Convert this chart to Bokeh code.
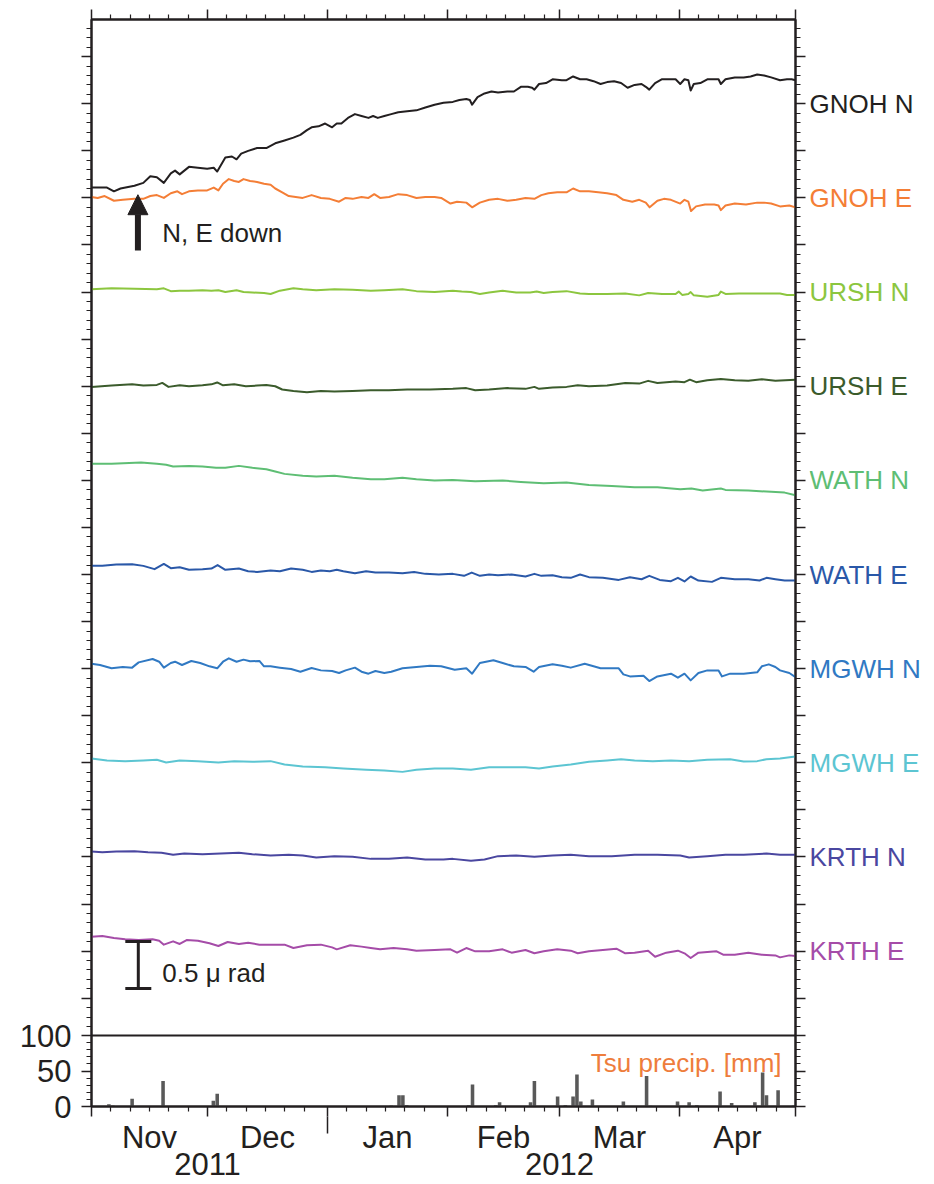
from bokeh.plotting import figure
from bokeh.layouts import row
from bokeh.models import (Range1d, LinearAxis, FixedTicker, CustomJSTickFormatter,
                          Label, Arrow, NormalHead, TeeHead, Span)
from bokeh.core.properties import value
from bokeh.embed import file_html
from bokeh.resources import INLINE

# ---------------- data (x = days since 2011-11-01) ----------------
month_starts = [0, 30, 61, 92, 121, 152, 182]
month_mid = [15, 45.5, 76.5, 106.5, 136.5, 167]
month_names = ["Nov", "Dec", "Jan", "Feb", "Mar", "Apr"]
year_pos = [30, 121]
year_names = ["2011", "2012"]

station_names = ["GNOH N", "GNOH E", "URSH N", "URSH E", "WATH N",
                 "WATH E", "MGWH N", "MGWH E", "KRTH N", "KRTH E"]
station_offsets = [9, 8, 7, 6, 5, 4, 3, 2, 1, 0]   # micro-rad offsets
station_colors = ["#231F20", "#F47E36", "#8CC63F", "#3B5B2C", "#5EBE74",
                  "#2A58A8", "#3079C3", "#5CC5D2", "#4A47A0", "#A54CA8"]

gnoh_n_day = [0, 4, 5.8, 7.5, 11.1, 13.4, 15.2, 16.9, 18.7, 20.5, 21.6, 22.8, 25.2, 27.5, 29.9,
              31.6, 32.5, 34.6, 36.3, 37.5, 38.7, 40.5, 42.8, 45.2, 47.5, 49.9, 52.2, 54.0, 55.7,
              56.9, 58.7, 60.4, 62.2, 63.4, 64.6, 66.3, 68.1, 69.8, 71.6, 72.8, 74.0, 75.7, 77.5,
              79.3, 81.6, 84.0, 86.3, 88.7, 91.0, 93.4, 95.1, 96.9, 97.8, 98.4, 99.8, 101.6, 103.4,
              105.1, 107.5, 109.2, 111.0, 112.8, 113.9, 114.5, 115.7, 117.5, 119.2, 121.6, 122.8,
              124.5, 126.3, 128.0, 129.8, 131.6, 133.3, 135.1, 136.9, 138.6, 140.4, 142.2, 143.3,
              144.2, 145.7, 147.4, 149.2, 151.0, 152.2, 153.3, 154.3, 154.9, 155.7, 157.4, 159.2,
              161.0, 162.1, 162.7, 163.9, 166.3, 168.6, 170.4, 172.1, 173.9, 175.7, 178.0, 179.8,
              181.0, 182.0]
gnoh_n_val = [-0.89, -0.89, -0.93, -0.90, -0.87, -0.84, -0.77, -0.78, -0.84, -0.74, -0.71, -0.75,
              -0.67, -0.68, -0.69, -0.68, -0.72, -0.57, -0.56, -0.59, -0.53, -0.50, -0.47, -0.47,
              -0.42, -0.39, -0.36, -0.33, -0.28, -0.25, -0.24, -0.21, -0.25, -0.21, -0.21, -0.15,
              -0.11, -0.13, -0.15, -0.13, -0.15, -0.13, -0.11, -0.09, -0.08, -0.07, -0.04, -0.01,
              0.01, 0.02, 0.04, 0.05, 0.04, -0.01, 0.07, 0.11, 0.13, 0.12, 0.13, 0.13, 0.18, 0.18,
              0.17, 0.15, 0.21, 0.22, 0.26, 0.25, 0.25, 0.29, 0.26, 0.26, 0.24, 0.21, 0.23, 0.24,
              0.22, 0.17, 0.20, 0.21, 0.18, 0.15, 0.22, 0.26, 0.26, 0.26, 0.21, 0.26, 0.25, 0.14,
              0.21, 0.22, 0.26, 0.26, 0.26, 0.21, 0.26, 0.28, 0.28, 0.29, 0.31, 0.30, 0.28, 0.25,
              0.26, 0.26, 0.25]

gnoh_e_day = [0, 1.6, 3.4, 5.8, 8.1, 11.1, 13.4, 15.2, 16.9, 18.7, 20.5, 22.2, 23.4, 25.2, 27.5,
              29.9, 31.6, 32.8, 34.0, 35.5, 36.9, 38.1, 39.3, 41.0, 42.8, 44.6, 46.3, 47.5, 49.3,
              51.0, 52.8, 54.6, 56.9, 59.3, 61.6, 64.0, 65.7, 67.5, 69.8, 71.6, 73.1, 74.6, 76.9,
              79.3, 81.6, 84.0, 86.3, 88.7, 90.4, 92.8, 94.5, 96.9, 98.4, 100.4, 102.8, 105.1,
              107.5, 109.8, 112.2, 114.5, 116.3, 118.1, 120.4, 122.8, 124.5, 126.3, 128.6, 131.0,
              133.3, 135.7, 137.5, 139.8, 141.6, 143.3, 144.3, 146.3, 148.0, 149.8, 152.2, 153.3,
              154.3, 155.0, 156.3, 158.6, 161.0, 162.1, 162.7, 163.9, 166.3, 169.2, 172.1, 173.9,
              175.7, 178.0, 180.4, 182.0]
gnoh_e_val = [0.01, 0.00, 0.02, -0.03, -0.02, -0.01, -0.01, 0.02, 0.03, 0.00, 0.05, 0.07, 0.04,
              0.07, 0.08, 0.08, 0.11, 0.08, 0.15, 0.20, 0.18, 0.17, 0.20, 0.18, 0.17, 0.15, 0.14,
              0.10, 0.06, 0.02, 0.01, 0.00, 0.03, 0.00, -0.01, -0.04, 0.00, -0.01, 0.01, 0.00, 0.04,
              0.00, 0.01, 0.04, 0.03, 0.00, 0.01, 0.01, 0.00, -0.06, -0.04, -0.05, -0.10, -0.05,
              -0.02, -0.01, -0.03, -0.02, 0.00, -0.01, 0.03, 0.05, 0.06, 0.06, 0.10, 0.07, 0.07,
              0.06, 0.05, 0.03, -0.02, -0.04, -0.02, -0.05, -0.10, -0.03, -0.01, -0.02, -0.06,
              -0.02, -0.04, -0.14, -0.09, -0.07, -0.07, -0.08, -0.13, -0.08, -0.06, -0.07, -0.05,
              -0.05, -0.06, -0.09, -0.08, -0.10]

ursh_n_day = [0, 5.2, 11.1, 16.9, 18.7, 20.5, 22.8, 25.2, 28.7, 31.0, 32.8, 34.6, 37.5, 39.3,
              41.6, 44.6, 46.3, 48.7, 52.2, 54.6, 58.1, 62.8, 67.5, 72.2, 75.7, 80.4, 84.0, 88.7,
              93.4, 95.7, 98.1, 100.4, 102.8, 106.3, 109.8, 113.4, 115.1, 116.9, 119.2, 122.8,
              126.3, 128.6, 133.3, 138.0, 141.6, 143.9, 147.5, 151.0, 151.8, 152.7, 154.3, 154.9,
              155.7, 159.2, 162.1, 162.7, 163.9, 167.4, 171.0, 174.5, 178.0, 179.8, 182.0]
ursh_n_val = [0.03, 0.04, 0.035, 0.03, 0.04, 0.01, 0.015, 0.015, 0.02, 0.015, 0.02, 0.0, 0.02,
              0.0, -0.005, -0.01, -0.02, 0.015, 0.04, 0.03, 0.02, 0.03, 0.025, 0.015, 0.02, 0.03,
              0.01, 0.0, 0.015, 0.005, 0.0, -0.02, -0.005, 0.015, -0.005, -0.005, 0.005, -0.01,
              0.0, 0.01, -0.015, -0.02, -0.02, -0.015, -0.035, -0.01, -0.02, -0.02, 0.005, -0.03,
              -0.02, 0.0, -0.035, -0.05, -0.03, 0.005, -0.02, -0.015, -0.015, -0.015, -0.015,
              -0.03, -0.03]

ursh_e_day = [0, 5.2, 10.5, 13.4, 16.9, 18.3, 19.9, 22.8, 25.2, 28.7, 31.0, 32.5, 34.0, 36.9,
              39.9, 42.8, 45.2, 47.5, 49.3, 52.2, 55.7, 59.3, 62.8, 67.5, 72.2, 76.9, 81.6, 87.5,
              93.4, 96.9, 99.2, 102.8, 107.5, 112.2, 114.5, 115.7, 119.2, 122.8, 125.7, 128.6,
              133.3, 138.0, 141.6, 143.9, 146.3, 151.0, 153.3, 154.7, 156.3, 159.2, 162.7, 166.3,
              169.8, 173.3, 176.8, 182.0]
ursh_e_val = [-0.007, 0.007, 0.02, 0.007, 0.014, 0.035, -0.007, 0.01, 0.0, 0.01, 0.02, 0.04, 0.01,
              0.02, 0.0, 0.007, 0.014, 0.0, -0.035, -0.05, -0.064, -0.05, -0.057, -0.05, -0.043,
              -0.043, -0.035, -0.035, -0.028, -0.02, -0.043, -0.035, -0.02, -0.028, -0.007,
              -0.028, -0.014, -0.007, 0.01, 0.0, 0.007, 0.035, 0.028, 0.057, 0.035, 0.05, 0.043,
              0.07, 0.043, 0.064, 0.078, 0.064, 0.057, 0.074, 0.057, 0.07]

wath_n_day = [0, 5.2, 12.8, 16.9, 19.3, 21.1, 25.2, 28.7, 32.2, 34.6, 38.1, 41.6, 45.2, 47.5,
              49.9, 54.6, 58.1, 62.8, 67.5, 72.2, 75.7, 80.4, 84.0, 88.7, 93.4, 99.2, 106.3, 111.0,
              116.9, 122.8, 128.6, 134.5, 140.4, 146.3, 152.2, 155.1, 158.0, 162.7, 163.9, 169.8,
              175.7, 179.2, 182.0]
wath_n_val = [0.176, 0.176, 0.19, 0.176, 0.165, 0.147, 0.154, 0.147, 0.133, 0.133, 0.154, 0.133,
              0.119, 0.094, 0.069, 0.048, 0.041, 0.048, 0.027, 0.012, 0.012, 0.027, 0.012, -0.002,
              0.005, -0.009, -0.002, -0.016, -0.03, -0.023, -0.048, -0.059, -0.073, -0.073, -0.094,
              -0.087, -0.108, -0.087, -0.101, -0.108, -0.122, -0.13, -0.158]

wath_e_day = [0, 2.8, 6.4, 10.5, 13.4, 16.3, 18.7, 20.5, 22.8, 25.2, 28.7, 31.0, 32.6, 34.6,
              38.1, 40.5, 42.8, 46.3, 48.7, 51.6, 54.6, 56.9, 59.3, 61.6, 63.4, 65.1, 68.1, 71.0,
              73.4, 76.9, 80.4, 83.4, 86.3, 89.8, 93.4, 96.3, 98.3, 100.4, 102.8, 105.1, 108.6,
              112.2, 114.5, 116.3, 119.2, 121.6, 123.9, 126.3, 128.6, 132.2, 136.3, 139.2, 142.2,
              144.2, 146.9, 149.8, 151.6, 153.3, 154.9, 156.9, 160.4, 162.7, 166.3, 169.8, 172.7,
              174.5, 176.8, 179.2, 182.0]
wath_e_val = [0.092, 0.092, 0.106, 0.11, 0.092, 0.057, 0.113, 0.067, 0.078, 0.05, 0.057, 0.064,
              0.1, 0.05, 0.064, 0.035, 0.028, 0.043, 0.035, 0.064, 0.05, 0.028, 0.043, 0.035, 0.05,
              0.035, 0.014, 0.035, 0.021, 0.021, 0.014, 0.028, 0.007, 0.0, 0.007, -0.014, 0.021,
              -0.014, 0.0, -0.007, 0.0, -0.021, 0.007, -0.014, -0.007, -0.028, -0.035, 0.0, -0.028,
              -0.035, -0.057, -0.028, -0.05, -0.014, -0.057, -0.071, -0.035, -0.074, -0.021,
              -0.064, -0.078, -0.035, -0.05, -0.05, -0.064, -0.035, -0.05, -0.064, -0.064]

mgwh_n_day = [0, 2.2, 5.2, 8.1, 10.5, 12.2, 15.8, 17.5, 18.7, 20.5, 21.6, 23.4, 25.8, 28.1, 30.5,
              32.5, 34.0, 35.5, 37.5, 39.3, 41.0, 43.4, 44.6, 46.3, 48.7, 51.6, 54.0, 56.9, 59.3,
              62.2, 64.0, 65.7, 68.1, 69.8, 71.6, 73.4, 75.7, 77.5, 80.4, 84.0, 87.5, 90.4, 93.9,
              96.9, 98.4, 100.4, 103.9, 106.3, 109.2, 112.2, 114.3, 115.7, 119.2, 121.6, 123.9,
              127.5, 129.8, 131.6, 136.3, 137.5, 139.2, 142.7, 144.2, 146.3, 149.8, 151.6, 153.3,
              154.9, 156.9, 159.2, 162.1, 163.0, 165.1, 168.6, 172.1, 173.3, 175.1, 176.8, 178.0,
              180.4, 182.0]
mgwh_n_val = [0.053, 0.039, 0.004, 0.018, 0.011, 0.067, 0.103, 0.074, 0.011, 0.06, 0.074, 0.039,
              0.082, 0.06, 0.025, 0.004, 0.074, 0.11, 0.074, 0.096, 0.078, 0.082, 0.025, 0.025,
              0.011, -0.004, -0.032, 0.007, -0.018, -0.025, -0.046, -0.018, 0.011, -0.032, -0.053,
              -0.025, -0.046, -0.032, 0.004, 0.018, 0.032, 0.025, -0.011, 0.004, -0.053, 0.06,
              0.089, 0.06, 0.025, 0.018, -0.032, 0.018, 0.046, 0.032, 0.011, 0.053, 0.025, 0.004,
              0.004, -0.06, -0.082, -0.074, -0.131, -0.082, -0.053, -0.096, -0.053, -0.124,
              -0.046, -0.018, -0.018, -0.082, -0.053, -0.053, -0.039, 0.025, 0.046, 0.018, -0.018,
              -0.046, -0.089]

mgwh_e_day = [0, 4.0, 8.7, 13.4, 16.9, 19.3, 22.8, 27.5, 32.8, 36.9, 41.6, 46.3, 49.9, 54.6,
              60.4, 65.1, 71.0, 75.7, 80.4, 84.0, 88.7, 93.4, 98.1, 102.8, 107.5, 112.2, 115.7,
              119.2, 123.9, 128.6, 133.3, 136.9, 140.4, 145.1, 149.8, 154.5, 159.2, 165.1, 168.6,
              172.1, 174.5, 178.0, 182.0]
mgwh_e_val = [0.046, 0.025, 0.018, 0.025, 0.032, 0.004, 0.025, 0.018, 0.004, 0.018, 0.011, 0.018,
              -0.018, -0.039, -0.046, -0.06, -0.074, -0.082, -0.096, -0.074, -0.06, -0.06, -0.074,
              -0.046, -0.046, -0.046, -0.06, -0.039, -0.018, 0.011, 0.025, 0.039, 0.025, 0.018,
              0.025, 0.018, 0.032, 0.039, 0.014, 0.018, 0.039, 0.046, 0.067]

krth_n_day = [0, 2.8, 6.4, 11.1, 14.6, 18.1, 21.1, 24.0, 28.7, 33.4, 38.1, 41.6, 46.3, 51.0,
              54.6, 58.1, 62.8, 67.5, 72.2, 76.9, 81.6, 86.3, 91.0, 93.4, 98.1, 101.6, 105.1,
              109.8, 114.5, 119.2, 123.9, 128.6, 134.5, 140.4, 146.3, 152.2, 154.5, 159.2, 163.9,
              168.6, 174.5, 178.0, 182.0]
krth_n_val = [0.059, 0.051, 0.059, 0.062, 0.051, 0.044, 0.023, 0.037, 0.03, 0.037, 0.044, 0.03,
              0.016, 0.023, 0.016, -0.005, 0.009, 0.002, -0.02, -0.02, -0.005, -0.027, -0.027,
              -0.02, -0.041, -0.027, 0.009, 0.016, 0.002, 0.016, 0.023, 0.009, 0.009, 0.023, 0.023,
              0.016, -0.005, 0.009, 0.023, 0.023, 0.037, 0.023, 0.023]

krth_e_day = [0, 2.8, 5.8, 8.7, 12.2, 15.8, 17.5, 18.7, 21.1, 22.8, 24.6, 27.5, 30.5, 32.8,
              35.2, 38.1, 40.5, 43.4, 46.3, 49.9, 52.2, 55.7, 59.3, 62.2, 63.4, 66.9, 69.8, 72.2,
              74.6, 78.1, 81.6, 84.0, 88.7, 92.8, 94.5, 96.9, 99.2, 102.8, 106.3, 108.6, 112.2,
              114.5, 116.9, 120.4, 123.9, 125.7, 128.6, 132.2, 135.7, 138.0, 140.4, 143.9, 145.7,
              148.6, 151.6, 153.3, 154.9, 156.9, 159.2, 161.6, 163.3, 166.3, 169.8, 173.3, 176.8,
              178.0, 180.4, 182.0]
krth_e_val = [0.154, 0.161, 0.14, 0.126, 0.118, 0.126, 0.111, 0.069, 0.104, 0.076, 0.118, 0.111,
              0.083, 0.055, 0.097, 0.076, 0.09, 0.069, 0.069, 0.069, 0.033, 0.062, 0.069, 0.04,
              0.019, 0.062, 0.048, 0.033, 0.019, 0.033, 0.019, 0.005, 0.012, 0.019, -0.016, 0.033,
              -0.002, -0.002, 0.019, -0.016, 0.012, -0.023, -0.002, 0.019, 0.005, -0.023, -0.002,
              0.012, 0.026, -0.023, -0.016, 0.005, -0.059, -0.016, 0.005, -0.023, -0.073, -0.016,
              -0.009, -0.002, -0.038, -0.038, -0.016, -0.038, -0.045, -0.066, -0.045, -0.052]

series_days = [gnoh_n_day, gnoh_e_day, ursh_n_day, ursh_e_day, wath_n_day,
               wath_e_day, mgwh_n_day, mgwh_e_day, krth_n_day, krth_e_day]
series_vals = [gnoh_n_val, gnoh_e_val, ursh_n_val, ursh_e_val, wath_n_val,
               wath_e_val, mgwh_n_val, mgwh_e_val, krth_n_val, krth_e_val]

# daily precipitation at Tsu (day index since 2011-11-01, mm)
precip_day = [4, 5, 10, 18, 22, 31, 32, 64, 77, 79, 80, 81, 97, 98, 104, 105, 113, 114, 120,
              122, 124, 125, 126, 129, 137, 143, 144, 151, 154, 156, 162, 165, 171, 172, 173,
              174, 177, 181]
precip_mm = [3, 1.5, 11, 36, 0.5, 8, 18, 0.5, 1.5, 16, 16, 2, 2, 31, 2, 6, 6, 36, 14,
             2, 14, 45, 7, 10, 7, 43, 1, 7, 6, 2, 21, 5, 6, 1, 48, 16, 23, 1.5]

# ---------------- layout / style ----------------
FONT = "Liberation Sans"
AX = "#231F20"
TILT_LO, TILT_HI = -0.896, 9.895      # visible tilt range of the upper panel
TILT_PX, PREC_PX = 1016, 71           # panel heights in px
tpp = (TILT_HI - TILT_LO) / TILT_PX   # tilt units per pixel
Y_LO = TILT_LO - PREC_PX * tpp
PREC_HI = 100.0 * (TILT_PX + PREC_PX) / PREC_PX
TOP_B = 19


def prec_to_tilt(mm):
    return Y_LO + mm / 100.0 * PREC_PX * tpp


yr = Range1d(Y_LO, TILT_HI)
p = figure(frame_width=704, frame_height=TILT_PX + PREC_PX,
           x_range=Range1d(0, 182), y_range=yr,
           x_axis_location=None, y_axis_location=None,
           toolbar_location=None, output_backend="svg",
           min_border_left=91, min_border_right=14, min_border_top=TOP_B, min_border_bottom=77,
           outline_line_color=AX, outline_line_width=2,
           background_fill_color="white", border_fill_color="white")
p.extra_y_ranges = {"precip": Range1d(0, PREC_HI)}
p.grid.visible = False


def fmt(pos, labs):
    return CustomJSTickFormatter(args=dict(pos=pos, lab=labs), code="""
        for (let i = 0; i < pos.length; i++) {
            if (Math.abs(tick - pos[i]) < 1e-6) { return lab[i]; }
        }
        return "";
    """)


def style_axis(ax, major_out=10, minor_out=5, label_px="0px", standoff=0):
    ax.major_tick_out = major_out
    ax.major_tick_in = 0
    ax.minor_tick_out = minor_out
    ax.minor_tick_in = 0
    ax.axis_line_color = AX
    ax.axis_line_width = 2
    ax.major_tick_line_color = AX
    ax.major_tick_line_width = 1.5
    ax.minor_tick_line_color = AX
    ax.minor_tick_line_width = 1.2
    ax.major_label_text_font = FONT
    ax.major_label_text_font_size = label_px
    ax.major_label_text_color = AX
    ax.major_label_standoff = standoff


# y ticks
tilt_major = [round(-0.5 + 0.5 * i, 3) for i in range(21)]
tilt_minor = [round(-0.8 + 0.1 * i, 3) for i in range(107)]
tilt_minor = [t for t in tilt_minor if TILT_LO <= t <= TILT_HI]
prec_major_vals = [0, 50, 100]
prec_major = [prec_to_tilt(m) for m in prec_major_vals]
prec_minor = [prec_to_tilt(m) for m in range(10, 100, 10)]

left = LinearAxis(ticker=FixedTicker(ticks=tilt_major + prec_major, minor_ticks=tilt_minor + prec_minor),
                  formatter=fmt(prec_major, [str(m) for m in prec_major_vals]))
style_axis(left, label_px="31px", standoff=10)
p.add_layout(left, "left")

right = LinearAxis(ticker=FixedTicker(ticks=tilt_major + prec_major, minor_ticks=tilt_minor + prec_minor),
                   formatter=fmt([], []))
style_axis(right)
p.add_layout(right, "right")

# x ticks
five_day = [m + k for m in month_starts[:-1] for k in (5, 10, 15, 20, 25)]
top = LinearAxis(ticker=FixedTicker(ticks=month_starts, minor_ticks=five_day), formatter=fmt([], []))
style_axis(top)
p.add_layout(top, "above")

bot = LinearAxis(ticker=FixedTicker(ticks=month_starts, minor_ticks=five_day), formatter=fmt([], []))
style_axis(bot)
p.add_layout(bot, "below")

months_ax = LinearAxis(ticker=FixedTicker(ticks=month_mid, minor_ticks=[month_starts[2]]),
                       formatter=fmt(month_mid, month_names))
style_axis(months_ax, major_out=0, minor_out=17, label_px="31px", standoff=-14)
months_ax.axis_line_color = None
months_ax.major_tick_line_color = None
months_ax.minor_tick_line_width = 1.5
p.add_layout(months_ax, "below")

years_ax = LinearAxis(ticker=FixedTicker(ticks=year_pos), formatter=fmt(year_pos, year_names))
style_axis(years_ax, major_out=0, minor_out=0, label_px="31px", standoff=-5)
years_ax.axis_line_color = None
years_ax.major_tick_line_color = None
years_ax.minor_tick_line_color = None
p.add_layout(years_ax, "below")

# panel separator
p.add_layout(Span(location=TILT_LO, dimension="width", line_color=AX, line_width=2))

# tilt traces
for off, col, dd, vv in zip(station_offsets, station_colors, series_days, series_vals):
    p.line(dd, [off + v for v in vv], line_color=col, line_width=2, line_join="round")

# precipitation bars
p.vbar(x=[d + 0.5 for d in precip_day], top=precip_mm, bottom=0, width=0.92,
       y_range_name="precip", fill_color="#595959", line_color=None)
p.add_layout(Label(x=178.4, y=prec_to_tilt(60.6), text="Tsu precip. [mm]", text_align="right",
                   text_baseline="alphabetic", text_font=FONT, text_font_size="26px",
                   text_color="#EE7D3C"))

# annotations: polarity arrow and scale bar
p.add_layout(Arrow(end=NormalHead(size=20, fill_color=AX, line_color=AX, line_width=1),
                   x_start=12.0, y_start=7.442, x_end=12.0, y_end=8.034,
                   line_color=AX, line_width=6))
p.add_layout(Label(x=18.3, y=7.630, text="N, E down", text_font=FONT, text_font_size="26px",
                   text_color=AX, text_baseline="alphabetic"))
p.add_layout(Arrow(start=TeeHead(size=26, line_color=AX, line_width=3),
                   end=TeeHead(size=26, line_color=AX, line_width=3),
                   x_start=12.1, y_start=-0.397, x_end=12.1, y_end=0.102,
                   line_color=AX, line_width=3))
p.add_layout(Label(x=18.3, y=-0.234, text="0.5 \u03bc rad", text_font=FONT, text_font_size="26px",
                   text_color=AX, text_baseline="alphabetic"))

# station names, in a narrow panel sharing the y range
q = figure(frame_width=120, frame_height=TILT_PX + PREC_PX,
           x_range=Range1d(0, 1), y_range=yr,
           x_axis_location=None, y_axis_location=None,
           toolbar_location=None, output_backend="svg",
           min_border_left=0, min_border_right=0, min_border_top=TOP_B, min_border_bottom=0,
           outline_line_color=None, background_fill_color="white", border_fill_color="white")
q.grid.visible = False
q.text(x=[0] * len(station_names), y=station_offsets, text=station_names,
       text_color=station_colors, text_font=value(FONT), text_font_size=value("26px"),
       text_baseline="middle", text_align="left")

layout = row(p, q)
open("out.html", "w").write(file_html(layout, INLINE))
